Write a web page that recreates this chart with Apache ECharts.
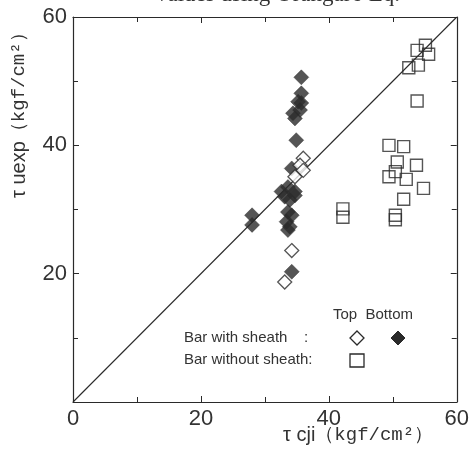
<!DOCTYPE html>
<html>
<head>
<meta charset="utf-8">
<script src="https://cdn.jsdelivr.net/npm/echarts@6/dist/echarts.min.js"></script>
<style>
  html, body { margin: 0; padding: 0; background: #fff; }
  #chart { width: 472px; height: 454px; }
</style>
</head>
<body>
<div id="chart"></div>
<script>
// tick values shown on the axes
var xTicks = [0, 20, 40, 60];
var yTicks = [20, 40, 60];

// bar with sheath, top (hollow diamonds)  [tau cji, tau uexp]
var withSheathTop = [
  [36.0, 38.0], [35.5, 36.9], [36.0, 36.1], [34.7, 35.1], [34.2, 23.6], [33.1, 18.7]
];

// bar with sheath, bottom (filled diamonds)
var withSheathBottom = [
  [35.7, 50.6], [35.7, 48.1], [35.2, 46.8], [35.7, 46.6], [35.5, 45.5], [34.4, 45.0],
  [34.7, 44.2], [34.9, 40.8], [34.2, 36.4], [33.6, 33.5], [32.6, 32.8], [34.7, 32.8],
  [33.1, 32.0], [33.9, 31.5], [34.7, 32.2], [28.0, 29.1], [28.0, 27.6], [33.6, 29.6],
  [34.2, 29.1], [33.4, 28.1], [33.9, 27.3], [33.6, 26.8], [34.2, 20.3]
];

// bar without sheath (hollow squares)
var withoutSheath = [
  [55.1, 55.6], [53.8, 54.8], [55.6, 54.2], [52.5, 52.1], [54.0, 52.5], [53.8, 46.9],
  [49.4, 40.0], [51.7, 39.8], [50.7, 37.4], [53.7, 36.9], [50.4, 35.9], [49.4, 35.1],
  [52.1, 34.7], [54.8, 33.3], [51.7, 31.6], [50.4, 29.1], [50.4, 28.4], [42.2, 30.1],
  [42.2, 28.8]
];

// y = x reference line
var equalityLine = [[0, 0], [60, 60]];

var ink = '#2a2a2a';
var sans = 'Liberation Sans, Arial, sans-serif';
var serif = 'Liberation Serif, DejaVu Serif, serif';
var mono = 'Liberation Mono, DejaVu Sans Mono, monospace';

var chart = echarts.init(document.getElementById('chart'));

var baseAxis = {
  min: 0,
  max: 60,
  interval: 20,
  axisLine: { show: true, onZero: false, lineStyle: { color: ink, width: 1.2 } },
  axisTick: { show: true, inside: true, length: 6, lineStyle: { color: ink } },
  minorTick: { show: true, splitNumber: 2, length: 5, lineStyle: { color: ink } },
  splitLine: { show: false },
  axisLabel: { show: false }
};

function axis(pos, labels) {
  var a = JSON.parse(JSON.stringify(baseAxis));
  a.type = 'value';
  a.position = pos;
  if (labels) {
    a.axisLabel = {
      show: true,
      fontSize: 22,
      fontFamily: sans,
      color: '#333',
      margin: 6,
      formatter: function (v) { return labels.indexOf(v) >= 0 ? String(v) : ''; }
    };
  }
  return a;
}

var labelRich = {
  a: { font: '20px ' + sans, fill: '#333' },
  b: { font: '19px ' + mono, fill: '#333' }
};

var option = {
  animation: false,
  backgroundColor: '#fff',
  grid: { left: 73, right: 12, top: 17, bottom: 52 },
  xAxis: [axis('bottom', xTicks), axis('top', null)],
  yAxis: [axis('left', yTicks), axis('right', null)],
  graphic: [
    {
      type: 'text', x: 156, y: -17,
      style: { text: 'values using Orangaro Eq.', font: '23px ' + serif, fill: '#333' }
    },
    {
      type: 'text', x: 9, y: 198, rotation: Math.PI / 2,
      style: { text: '{a|τ uexp}{b|（kgf/cm²）}', rich: labelRich }
    },
    {
      type: 'text', x: 283, y: 425,
      style: { text: '{a|τ cji}{b|（kgf/cm²）}', rich: labelRich }
    },
    {
      type: 'text', x: 333, y: 307,
      style: { text: 'Top  Bottom', font: '15px ' + sans, fill: '#333' }
    },
    {
      type: 'text', x: 184, y: 330,
      style: { text: 'Bar with sheath    :', font: '15px ' + sans, fill: '#333' }
    },
    {
      type: 'text', x: 184, y: 352,
      style: { text: 'Bar without sheath:', font: '15px ' + sans, fill: '#333' }
    },
    {
      type: 'polygon',
      shape: { points: [[357, 331], [364, 338], [357, 345], [350, 338]] },
      style: { fill: '#fff', stroke: ink, lineWidth: 1.3 }
    },
    {
      type: 'polygon',
      shape: { points: [[398, 331], [405, 338], [398, 345], [391, 338]] },
      style: { fill: ink, stroke: ink, lineWidth: 1 }
    },
    {
      type: 'rect',
      shape: { x: 350, y: 354, width: 14, height: 13 },
      style: { fill: '#fff', stroke: ink, lineWidth: 1.3 }
    }
  ],
  series: [
    {
      type: 'line',
      data: equalityLine,
      symbol: 'none',
      silent: true,
      lineStyle: { color: ink, width: 1.1 },
      z: 1
    },
    {
      name: 'Bar without sheath',
      type: 'scatter',
      data: withoutSheath,
      symbol: 'rect',
      symbolSize: 12,
      itemStyle: { color: 'rgba(255,255,255,0)', borderColor: ink, borderWidth: 1.4 },
      z: 2
    },
    {
      name: 'Bottom',
      type: 'scatter',
      data: withSheathBottom,
      symbol: 'diamond',
      symbolSize: 15,
      itemStyle: { color: ink, borderColor: ink, borderWidth: 0.5 },
      z: 3
    },
    {
      name: 'Top',
      type: 'scatter',
      data: withSheathTop,
      symbol: 'diamond',
      symbolSize: 14,
      itemStyle: { color: '#fff', borderColor: ink, borderWidth: 1.3 },
      z: 4
    }
  ]
};

chart.setOption(option);
</script>
</body>
</html>
